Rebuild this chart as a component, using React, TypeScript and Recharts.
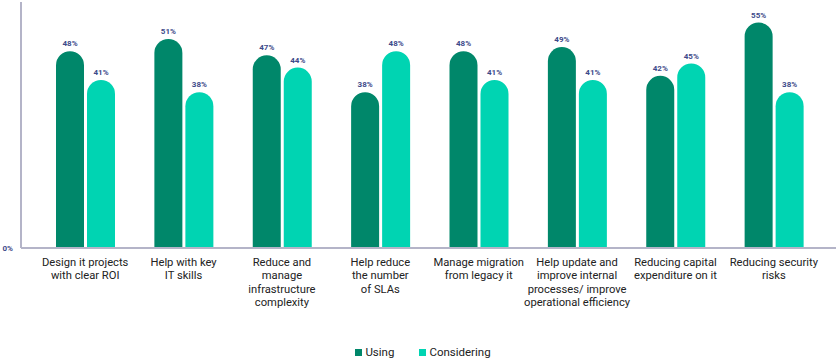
import React from 'react';
import { BarChart, Bar, XAxis, YAxis, Legend, LabelList } from 'recharts';

const categories = [
  'Design it projects\nwith clear ROI',
  'Help with key\nIT skills',
  'Reduce and\nmanage\ninfrastructure\ncomplexity',
  'Help reduce\nthe number\nof SLAs',
  'Manage migration\nfrom legacy it',
  'Help update and\nimprove internal\nprocesses/ improve\noperational efficiency',
  'Reducing capital\nexpenditure on it',
  'Reducing security\nrisks',
];
const usingValues = [48, 51, 47, 38, 48, 49, 42, 55];
const consideringValues = [41, 38, 44, 48, 41, 41, 45, 38];
const yTicks = [0];
const seriesNames = ['Using', 'Considering'];
const seriesColors = ['#00876a', '#00d4b2'];

const data = categories.map((c, i) => ({
  name: c,
  Using: usingValues[i],
  Considering: consideringValues[i],
}));

const CategoryTick = (props: any) => {
  const { x, y, payload } = props;
  const lines = String(payload.value).split('\n');
  return (
    <text
      x={x}
      y={y + 10}
      textAnchor="middle"
      fill="#222"
      fontSize={11.2}
      fontFamily="Roboto, sans-serif"
    >
      {lines.map((l: string, i: number) => (
        <tspan key={i} x={x} dy={i === 0 ? 0 : 13.3}>
          {l}
        </tspan>
      ))}
    </text>
  );
};

const YTick = (props: any) => {
  const { x, y, payload } = props;
  return (
    <text
      x={x}
      y={y + 3}
      textAnchor="end"
      fill="#3d4a8a"
      fontSize={8}
      fontWeight="bold"
      fontFamily="Roboto, sans-serif"
    >
      {payload.value}%
    </text>
  );
};

const LegendContent = () => (
  <div
    style={{
      display: 'flex',
      justifyContent: 'center',
      alignItems: 'center',
      fontFamily: 'Roboto, sans-serif',
      fontSize: 11.5,
      color: '#222',
      height: 16,
      paddingLeft: 6,
    }}
  >
    {seriesNames.map((n, i) => (
      <div key={n} style={{ display: 'flex', alignItems: 'center', marginRight: i === 0 ? 25 : 0 }}>
        <span style={{ display: 'inline-block', width: 7, height: 7, background: seriesColors[i], marginRight: 3 }} />
        <span>{n}</span>
      </div>
    ))}
  </div>
);

const labelStyle = {
  fill: '#3d4a8a',
  fontSize: 8,
  fontWeight: 'bold' as const,
  fontFamily: 'Roboto, sans-serif',
};

export default function App() {
  return (
    <div style={{ position: 'absolute', left: 0, top: 0, width: 840, height: 363, background: '#fff' }}>
      <BarChart
        width={840}
        height={363}
        data={data}
        margin={{ top: 2, right: 4, bottom: 3, left: 0 }}
        barSize={28}
        barGap={3}
      >
        <XAxis
          dataKey="name"
          interval={0}
          tick={<CategoryTick />}
          tickLine={false}
          axisLine={{ stroke: '#b4b4c8', strokeWidth: 2 }}
          padding={{ left: 15, right: 13 }}
          height={96}
        />
        <YAxis
          width={21}
          domain={[0, 60]}
          ticks={yTicks}
          tick={<YTick />}
          tickLine={false}
          axisLine={{ stroke: '#b4b4c8', strokeWidth: 2 }}
        />
        <Legend verticalAlign="bottom" align="center" content={<LegendContent />} wrapperStyle={{ left: 0, width: 840 }} />
        <Bar dataKey="Using" fill={seriesColors[0]} radius={[14, 14, 0, 0]} isAnimationActive={false}>
          <LabelList dataKey="Using" position="top" offset={5} formatter={(v: any) => `${v}%`} style={labelStyle} />
        </Bar>
        <Bar dataKey="Considering" fill={seriesColors[1]} radius={[14, 14, 0, 0]} isAnimationActive={false}>
          <LabelList dataKey="Considering" position="top" offset={5} formatter={(v: any) => `${v}%`} style={labelStyle} />
        </Bar>
      </BarChart>
    </div>
  );
}
